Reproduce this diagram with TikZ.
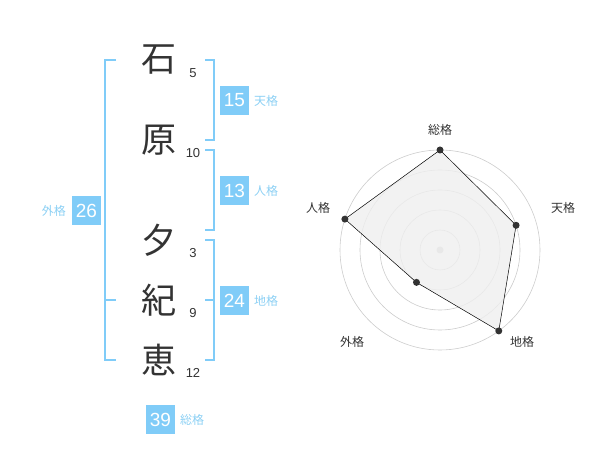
\documentclass[tikz,border=0pt]{standalone}
\usepackage{fontspec}
\setmainfont{Liberation Sans}
\newfontfamily\cjk{Noto Sans CJK JP}
\definecolor{kakublue}{RGB}{128,204,248}
\definecolor{kakutext}{RGB}{140,208,244}
\definecolor{inkgrey}{RGB}{51,51,51}
\definecolor{ringgrey}{RGB}{204,204,204}
\definecolor{areagrey}{RGB}{239,239,239}
\tikzset{
  kanji/.style = {text = inkgrey, inner sep = 0pt, font = \cjk\fontsize{35}{35}\selectfont},
  kakusu/.style = {text = inkgrey, inner sep = 0pt, font = \fontsize{13}{13}\selectfont},
  kakubox/.style = {fill = kakublue, text = white, inner sep = 0pt, minimum size = 29pt, font = \fontsize{19}{19}\selectfont},
  kakuname/.style = {text = kakutext, inner sep = 0pt, font = \cjk\fontsize{12}{12}\selectfont},
  axisname/.style = {text = inkgrey, inner sep = 0pt, font = \cjk\fontsize{12}{12}\selectfont},
  bracket/.style = {draw = kakublue, line width = 1.5pt},
}
\begin{document}
\begin{tikzpicture}[x = 1pt, y = -1pt]
\useasboundingbox (0, 0) rectangle (600, 470);
% name and stroke counts
\draw (159, 60) node [kanji] (k1) {石};
\draw (159, 140) node [kanji] (k2) {原};
\draw (159, 240) node [kanji] (k3) {夕};
\draw (159, 300) node [kanji] (k4) {紀};
\draw (159, 360) node [kanji] (k5) {恵};
\draw (193, 73) node [kakusu] (n1) {5};
\draw (193, 153) node [kakusu] (n2) {10};
\draw (193, 253) node [kakusu] (n3) {3};
\draw (193, 313) node [kakusu] (n4) {9};
\draw (193, 373) node [kakusu] (n5) {12};
% brackets
\draw [bracket] (116, 60) -- (105, 60) -- (105, 360) -- (116, 360);
\draw [bracket] (105, 300) -- (116, 300);
\draw [bracket] (205, 60) -- (214, 60) -- (214, 140) -- (205, 140);
\draw [bracket] (205, 150) -- (214, 150) -- (214, 230) -- (205, 230);
\draw [bracket] (205, 240) -- (214, 240) -- (214, 360) -- (205, 360);
\draw [bracket] (205, 300) -- (214, 300);
% boxes
\draw (234.5, 100.5) node [kakubox] (ten) {15};
\draw (254, 101) node [kakuname, anchor = west] (tenl) {天格};
\draw (234.5, 190.5) node [kakubox] (jin) {13};
\draw (254, 191) node [kakuname, anchor = west] (jinl) {人格};
\draw (234.5, 300.5) node [kakubox] (chi) {24};
\draw (254, 301) node [kakuname, anchor = west] (chil) {地格};
\draw (86.5, 210.5) node [kakubox] (gai) {26};
\draw (66, 211) node [kakuname, anchor = east] (gail) {外格};
\draw (160.5, 419.5) node [kakubox] (sou) {39};
\draw (180, 420) node [kakuname, anchor = west] (soul) {総格};
% radar chart
\begin{scope}[shift = {(440, 250)}, y = 1pt]
\foreach \r in {20, 40, 60, 80, 100}
  \draw [ringgrey, line width = 0.6pt] (0, 0) circle (\r);
\fill [ringgrey] (0, 0) circle (3.5);
\fill [areagrey, fill opacity = 0.8] (90:100) -- (18:80) -- (-54:100) -- (-126:40) -- (162:100) -- cycle;
\draw [black, line width = 0.5pt] (90:100) -- (18:80) -- (-54:100) -- (-126:40) -- (162:100) -- cycle;
\foreach \a/\r in {90/100, 18/80, -54/100, -126/40, 162/100}
  \fill [inkgrey] (\a:\r) circle (3.5);
\draw (0, 120) node [axisname] (souax) {総格};
\draw (123, 42) node [axisname] (tenax) {天格};
\draw (82, -92) node [axisname] (chiax) {地格};
\draw (-88, -92) node [axisname] (gaiax) {外格};
\draw (-122, 42) node [axisname] (jinax) {人格};
\end{scope}
\end{tikzpicture}
\end{document}
